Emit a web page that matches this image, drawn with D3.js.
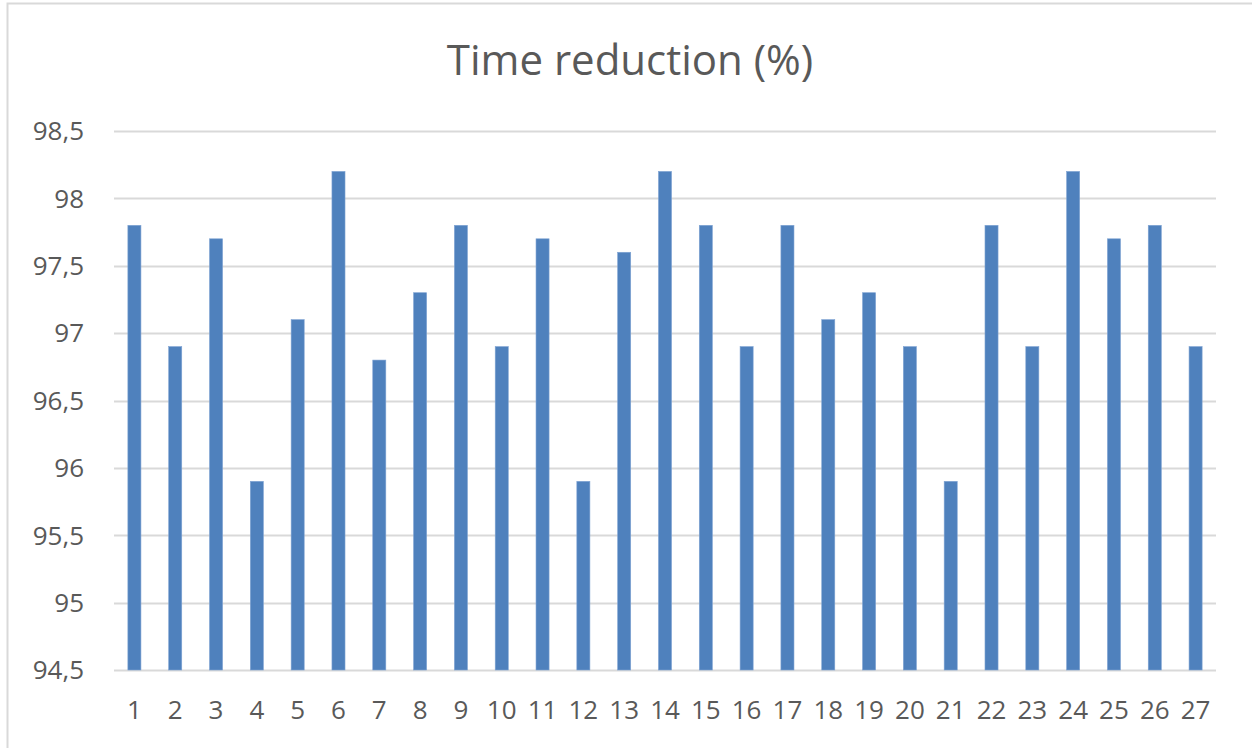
<!DOCTYPE html>
<html>
<head>
<meta charset="utf-8">
<script src="https://cdn.jsdelivr.net/npm/d3@7"></script>
<style>
  html, body { margin: 0; padding: 0; background: #fff; }
  svg text { font-family: "Open Sans", "Noto Sans", sans-serif; fill: #595959; }
</style>
</head>
<body>
<svg id="chart" width="1252" height="748"></svg>
<script>
const title = "Time reduction (%)";
const categories = ["1","2","3","4","5","6","7","8","9","10","11","12","13","14","15","16","17","18","19","20","21","22","23","24","25","26","27"];
const values = [97.8, 96.9, 97.7, 95.9, 97.1, 98.2, 96.8, 97.3, 97.8, 96.9, 97.7, 95.9, 97.6, 98.2, 97.8, 96.9, 97.8, 97.1, 97.3, 96.9, 95.9, 97.8, 96.9, 98.2, 97.7, 97.8, 96.9];
const yTicks = [94.5, 95, 95.5, 96, 96.5, 97, 97.5, 98, 98.5];
const yTickLabels = ["94,5", "95", "95,5", "96", "96,5", "97", "97,5", "98", "98,5"];

const svg = d3.select("#chart");
const plot = { left: 114, right: 1216, top: 131, bottom: 670 };

// outer chart border
svg.append("rect")
  .attr("x", 7.5).attr("y", 3.5)
  .attr("width", 1300).attr("height", 900)
  .attr("fill", "#fff").attr("stroke", "#d9d9d9").attr("stroke-width", 2);

const x = d3.scaleBand().domain(categories).range([plot.left, plot.right]).paddingInner(0.68).paddingOuter(0.34);
const y = d3.scaleLinear().domain([94.5, 98.5]).range([plot.bottom, plot.top]);

// gridlines
svg.append("g").selectAll("line").data(yTicks).join("line")
  .attr("x1", plot.left).attr("x2", plot.right)
  .attr("y1", d => Math.round(y(d)) + 0.5).attr("y2", d => Math.round(y(d)) + 0.5)
  .attr("stroke", "#d9d9d9").attr("stroke-width", 2);

// y labels
svg.append("g").selectAll("text").data(yTicks).join("text")
  .attr("x", 84).attr("y", d => y(d))
  .attr("dy", "0.36em")
  .attr("text-anchor", "end")
  .attr("font-size", 26)
  .text((d, i) => yTickLabels[i]);

// bars
svg.append("g").selectAll("rect").data(values).join("rect")
  .attr("x", (d, i) => x(categories[i]))
  .attr("y", d => y(d))
  .attr("width", x.bandwidth())
  .attr("height", d => y(94.5) - y(d))
  .attr("fill", "#4f81bd")
  .attr("stroke", "#7fa3d3").attr("stroke-width", 0.6);

// x labels
svg.append("g").selectAll("text").data(categories).join("text")
  .attr("x", d => x(d) + x.bandwidth() / 2)
  .attr("y", 719)
  .attr("text-anchor", "middle")
  .attr("font-size", 26)
  .text(d => d);

// title
svg.append("text")
  .attr("x", 630).attr("y", 75)
  .attr("text-anchor", "middle")
  .attr("font-size", 42)
  .text(title);
</script>
</body>
</html>
